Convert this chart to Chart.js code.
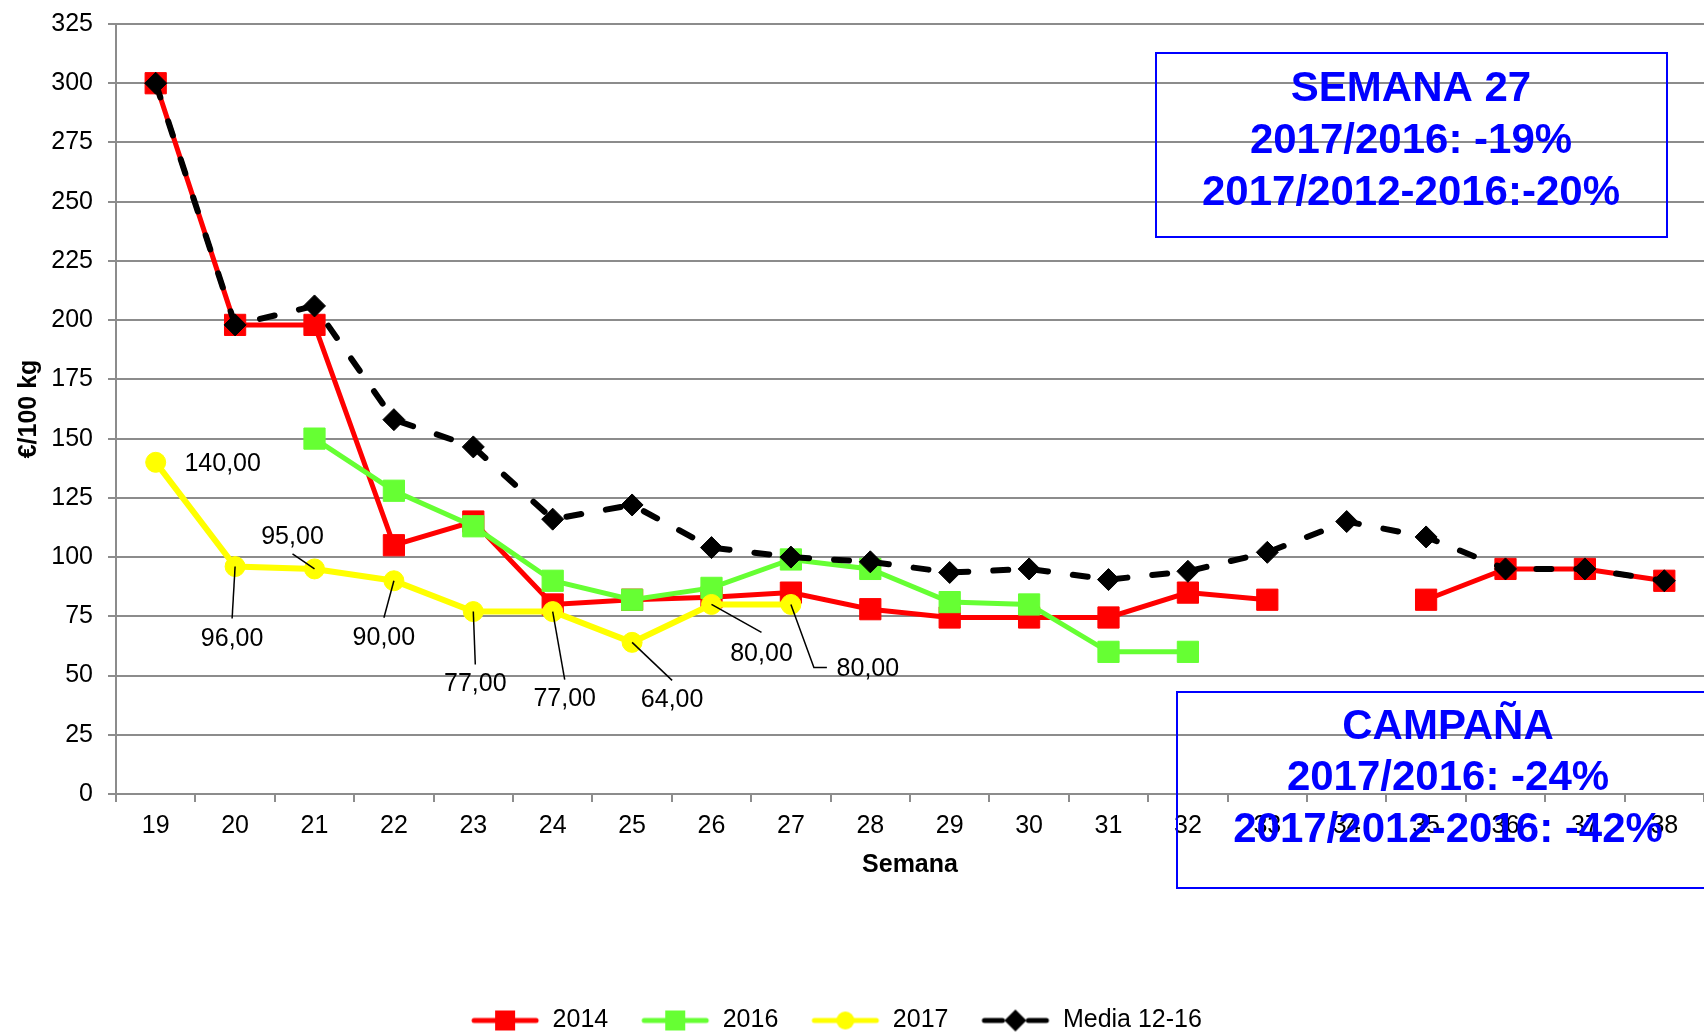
<!DOCTYPE html>
<html>
<head>
<meta charset="utf-8">
<script src="https://cdn.jsdelivr.net/npm/chart.js@4.4.1/dist/chart.umd.min.js"></script>
<style>
    body { margin: 0; background: #fff; }
    canvas { display: block; }
</style>
</head>
<body>
<canvas id="chart" width="1704" height="1032"></canvas>
<script>
// Weeks on the X axis
const weeks = ["19", "20", "21", "22", "23", "24", "25", "26", "27", "28",
    "29", "30", "31", "32", "33", "34", "35", "36", "37", "38"];

// €/100 kg per week (null = no quote)
const s2014 = [300, 198, 198, 105, 115, 80, 82, 83, 85, 78, 74.5, 74.5, 74.5, 85, 82, null, 82, 95, 95, 90];
const s2016 = [null, null, 150, 128, 113, 90, 82, 87, 99, 95, 81, 80, 60, 60, null, null, null, null, null, null];
const s2017 = [140, 96, 95, 90, 77, 77, 64, 80, 80];
const media1216 = [300, 198, 206, 158, 146.5, 116, 122, 104, 100, 98, 93.5, 95, 90.5, 94, 102, 115, 108.5, 95, 95, 90];

const seriesNames = ["2014", "2016", "2017", "Media 12-16"];

// text of the two note boxes
const weekNote = ["SEMANA 27", "2017/2016: -19%", "2017/2012-2016:-20%"];
const seasonNote = ["CAMPAÑA", "2017/2016: -24%", "2017/2012-2016: -42%"];

const FONT = "'Liberation Sans', Arial, sans-serif";
const GRID = "#8c8c8c";

// where the 2017 value labels sit, relative to their point (label centre + leader line)
const labelPlacement = [
    { dx: 67, dy: 2, leader: [] },
    { dx: -3, dy: 73, leader: [[-3, 52]] },
    { dx: -22, dy: -32, leader: [[-22, -15]] },
    { dx: -10, dy: 57, leader: [[-10, 37]] },
    { dx: 2, dy: 73, leader: [[2, 53]] },
    { dx: 12, dy: 88, leader: [[12, 68]] },
    { dx: 40, dy: 58, leader: [[40, 38]] },
    { dx: 50, dy: 50, leader: [[50, 28]] },
    { dx: 77, dy: 65, leader: [[23, 63], [36, 63]] },
];

// little legend icons: line with the marker in the middle
function makeIcon(color, marker, dashed) {
    const c = document.createElement("canvas");
    c.width = 70;
    c.height = 26;
    const g = c.getContext("2d");
    g.strokeStyle = color;
    g.fillStyle = color;
    g.lineWidth = 5;
    g.lineCap = "round";
    g.beginPath();
    if (dashed) {
        g.moveTo(4, 13); g.lineTo(22, 13);
        g.moveTo(48, 13); g.lineTo(66, 13);
    } else {
        g.moveTo(4, 13); g.lineTo(66, 13);
    }
    g.stroke();
    g.beginPath();
    if (marker === "rect") {
        g.rect(25, 3, 20, 20);
    } else if (marker === "circle") {
        g.arc(35, 13, 9, 0, Math.PI * 2);
    } else {
        g.moveTo(35, 2); g.lineTo(46, 13); g.lineTo(35, 24); g.lineTo(24, 13);
        g.closePath();
    }
    g.fill();
    return c;
}

const legendIcons = [
    makeIcon("#ff0000", "rect"),
    makeIcon("#66ff33", "rect"),
    makeIcon("#ffff00", "circle"),
    makeIcon("#000000", "diamond", true),
];

const valueLabels = {
    id: "valueLabels",
    afterDatasetsDraw(chart) {
        const ctx = chart.ctx;
        const meta = chart.getDatasetMeta(2);
        ctx.save();
        ctx.strokeStyle = "#000";
        ctx.lineWidth = 1.5;
        ctx.fillStyle = "#000";
        ctx.font = "25px " + FONT;
        ctx.textAlign = "center";
        ctx.textBaseline = "middle";
        meta.data.forEach((pt, i) => {
            const p = labelPlacement[i];
            if (p.leader.length) {
                ctx.beginPath();
                ctx.moveTo(pt.x, pt.y);
                p.leader.forEach(([lx, ly]) => ctx.lineTo(pt.x + lx, pt.y + ly));
                ctx.stroke();
            }
            const txt = s2017[i].toFixed(2).replace(".", ",");
            ctx.fillText(txt, pt.x + p.dx, pt.y + p.dy);
        });
        ctx.restore();
    },
};

const noteBoxes = {
    id: "noteBoxes",
    afterDraw(chart) {
        const ctx = chart.ctx;
        ctx.save();
        ctx.strokeStyle = "#0000ff";
        ctx.fillStyle = "#0000ff";
        ctx.lineWidth = 2;
        ctx.strokeRect(1156, 53, 511, 184);
        ctx.strokeRect(1177, 692, 560, 196);
        ctx.font = "bold 42px " + FONT;
        ctx.textAlign = "center";
        ctx.textBaseline = "middle";
        weekNote.forEach((t, i) => ctx.fillText(t, 1411, 89 + i * 52));
        seasonNote.forEach((t, i) => ctx.fillText(t, 1448, 727 + i * 51.5));
        ctx.restore();
    },
};

// nudge the legend to where it sits in the original
const legendNudge = {
    id: "legendNudge",
    afterLayout(chart) {
        const lg = chart.legend;
        lg.top += 11; lg.bottom += 11;
        lg.left -= 16; lg.right -= 16;
    },
};

const ctx = document.getElementById("chart").getContext("2d");

new Chart(ctx, {
    type: "line",
    data: {
        labels: weeks,
        datasets: [
            {
                label: seriesNames[0],
                data: s2014,
                borderColor: "#ff0000",
                backgroundColor: "#ff0000",
                borderWidth: 5,
                pointStyle: "rect",
                pointRadius: 15,
                pointBorderWidth: 1,
                order: 3,
            },
            {
                label: seriesNames[1],
                data: s2016,
                borderColor: "#66ff33",
                backgroundColor: "#66ff33",
                borderWidth: 5,
                pointStyle: "rect",
                pointRadius: 15,
                pointBorderWidth: 1,
                order: 2,
            },
            {
                label: seriesNames[2],
                data: s2017,
                borderColor: "#ffff00",
                backgroundColor: "#ffff00",
                borderWidth: 6,
                pointStyle: "circle",
                pointRadius: 10,
                pointBorderWidth: 1,
                order: 1,
            },
            {
                label: seriesNames[3],
                data: media1216,
                borderColor: "#000000",
                backgroundColor: "#000000",
                borderWidth: 6,
                borderDash: [15, 25],
                borderCapStyle: "round",
                pointStyle: "rectRot",
                pointRadius: 11,
                pointBorderWidth: 1,
                order: 0,
            },
        ],
    },
    options: {
        responsive: false,
        animation: false,
        devicePixelRatio: 1,
        spanGaps: false,
        layout: { autoPadding: false, padding: { top: 24, left: 0, right: 0, bottom: 0 } },
        plugins: {
            tooltip: { enabled: false },
            legend: {
                position: "bottom",
                labels: {
                    usePointStyle: true,
                    pointStyleWidth: 70,
                    padding: 32,
                    color: "#000",
                    font: { family: FONT, size: 25 },
                    sort: (a, b) => a.datasetIndex - b.datasetIndex,
                    generateLabels: (chart) => {
                        const items = Chart.defaults.plugins.legend.labels.generateLabels(chart);
                        items.forEach((it) => {
                            it.pointStyle = legendIcons[it.datasetIndex];
                            it.lineWidth = 0;
                        });
                        return items;
                    },
                },
            },
        },
        scales: {
            x: {
                offset: true,
                grid: {
                    display: true,
                    drawOnChartArea: false,
                    offset: true,
                    tickLength: 8,
                    color: GRID,
                    lineWidth: 2,
                },
                border: { color: GRID, width: 2 },
                ticks: {
                    color: "#000",
                    padding: 9,
                    maxRotation: 0,
                    autoSkip: false,
                    font: { family: FONT, size: 25 },
                },
                title: {
                    display: true,
                    text: "Semana",
                    color: "#000",
                    font: { family: FONT, size: 25, weight: "bold" },
                    padding: { top: 0, bottom: 85 },
                },
                afterFit: (scale) => {
                    scale.height = 171;
                    scale.paddingLeft = 0;
                    scale.paddingRight = 0;
                },
            },
            y: {
                min: 0,
                max: 325,
                grid: {
                    color: GRID,
                    lineWidth: 2,
                    tickLength: 8,
                },
                border: { color: GRID, width: 2 },
                ticks: {
                    stepSize: 25,
                    color: "#000",
                    padding: 15,
                    font: { family: FONT, size: 25 },
                },
                title: {
                    display: true,
                    text: "€/100 kg",
                    color: "#000",
                    font: { family: FONT, size: 25, weight: "bold" },
                    padding: { top: 14, bottom: 0 },
                },
                afterFit: (scale) => {
                    scale.width = 116;
                    scale.paddingTop = 0;
                    scale.paddingBottom = 0;
                },
            },
        },
    },
    plugins: [valueLabels, noteBoxes, legendNudge],
});
</script>
</body>
</html>
